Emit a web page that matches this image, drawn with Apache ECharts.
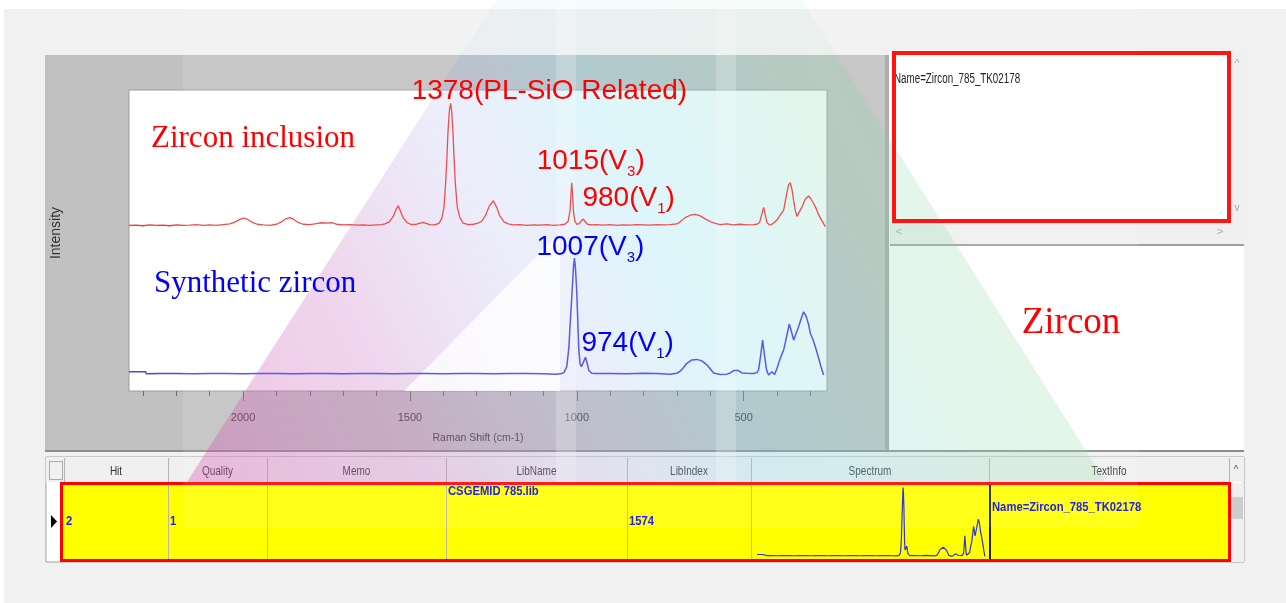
<!DOCTYPE html>
<html>
<head>
<meta charset="utf-8">
<script src="https://cdn.jsdelivr.net/npm/echarts@6/dist/echarts.min.js"></script>
<style>
  html, body { margin: 0; padding: 0; background: #fff; }
  #chart { width: 1286px; height: 603px; }
</style>
</head>
<body>
<div id="chart"></div>
<script>
// Raman spectra: [shift (cm-1), relative intensity]
const inclusionSpectrum = [
  [2342,55.0],[2320,55.1],[2300,54.9],[2280,55.2],[2260,55.0],[2240,55.1],[2220,54.9],[2200,55.2],[2180,55.0],[2160,55.1],
  [2140,55.3],[2120,55.0],[2100,55.2],[2080,55.0],[2060,55.3],[2040,55.5],[2025,56.1],[2010,57.0],[1998,57.4],[1985,56.9],
  [1972,56.0],[1958,55.4],[1940,55.2],[1920,55.0],[1900,55.4],[1885,56.2],[1872,57.2],[1860,57.6],[1848,57.0],[1835,56.0],
  [1820,55.4],[1800,55.3],[1780,55.6],[1765,55.9],[1750,55.8],[1735,55.9],[1720,55.4],[1700,55.2],[1680,55.3],[1660,55.1],
  [1640,55.2],[1620,55.0],[1600,55.2],[1585,55.3],[1575,55.5],[1562,56.2],[1550,58.0],[1541,60.5],[1535,61.5],[1529,60.0],
  [1520,57.5],[1508,55.9],[1495,55.3],[1480,55.4],[1468,55.8],[1461,56.0],[1452,55.7],[1440,55.3],[1425,55.2],[1412,55.8],
  [1404,57.5],[1398,61.0],[1393,69.0],[1389,78.0],[1386,86.0],[1382,93.0],[1378,95.6],[1375,93.0],[1371,86.0],[1368,78.0],
  [1364,69.0],[1358,61.0],[1350,57.5],[1340,55.8],[1325,55.3],[1310,55.4],[1298,55.7],[1285,56.4],[1273,58.4],[1262,61.5],
  [1250,63.2],[1240,61.0],[1230,58.0],[1218,56.2],[1205,55.5],[1190,55.2],[1170,55.3],[1150,55.0],[1130,55.2],[1110,55.1],
  [1090,55.3],[1070,55.0],[1050,55.2],[1036,55.4],[1026,56.3],[1020,60.0],[1017,66.0],[1015,69.2],[1013,66.0],[1010,60.0],
  [1006,56.5],[1000,55.4],[992,55.6],[986,56.6],[980,57.1],[975,56.3],[968,55.4],[955,55.2],[940,55.3],[920,55.1],
  [900,55.3],[880,55.0],[860,55.2],[840,55.1],[820,55.3],[800,55.2],[780,55.1],[760,55.3],[740,55.2],[720,55.3],
  [700,55.5],[690,56.2],[675,57.6],[660,58.4],[645,58.7],[630,58.2],[615,57.2],[600,56.3],[585,55.7],[570,55.3],
  [550,55.5],[530,55.2],[510,55.4],[490,55.2],[470,55.3],[460,55.4],[452,56.0],[446,58.5],[440,61.0],[435,58.5],
  [430,56.0],[424,55.3],[418,55.2],[410,55.8],[400,56.8],[390,58.5],[380,60.0],[370,66.0],[365,68.5],[360,69.2],
  [355,67.0],[350,63.3],[345,60.0],[340,58.0],[333,59.5],[325,61.1],[315,63.8],[305,64.8],[298,63.8],[290,62.3],
  [282,60.5],[275,58.5],[265,56.5],[255,54.6]
];

const syntheticSpectrum = [
  [2342,6.4],[2292,6.4],[2290,5.7],[2250,5.8],[2200,5.8],[2150,5.7],[2100,5.8],[2050,5.8],[2000,5.7],[1950,5.8],
  [1900,5.8],[1850,5.7],[1800,5.8],[1750,5.8],[1700,5.7],[1650,5.8],[1600,5.8],[1550,5.7],[1500,5.8],[1450,5.8],
  [1400,5.7],[1350,5.8],[1300,5.8],[1250,5.7],[1200,5.8],[1150,5.8],[1100,5.7],[1060,5.6],[1045,5.8],[1038,6.2],
  [1030,8.1],[1024,14.0],[1019,23.6],[1014,33.0],[1010,41.0],[1007,44.2],[1004,41.0],[1000,33.0],[997,23.6],[994,14.0],
  [990,9.0],[986,8.1],[980,9.6],[974,11.2],[969,9.3],[964,6.9],[955,5.9],[945,5.8],[900,5.8],[850,5.7],
  [800,5.9],[760,5.8],[720,5.6],[700,5.9],[690,6.6],[680,7.8],[670,9.2],[655,10.3],[640,10.5],[625,10.0],
  [610,8.7],[600,7.4],[590,6.0],[570,5.5],[550,5.6],[540,6.0],[530,6.8],[525,7.2],[515,6.8],[505,6.0],
  [490,5.9],[470,5.8],[460,6.1],[455,7.0],[448,12.5],[443,16.9],[438,12.5],[432,7.5],[428,6.0],[425,5.3],
  [420,5.9],[415,6.4],[410,5.8],[407,5.5],[400,7.5],[395,9.2],[388,11.5],[380,13.6],[370,18.6],[363,22.3],
  [356,19.5],[350,16.9],[343,19.0],[335,21.4],[326,24.5],[320,26.3],[312,24.7],[305,22.0],[300,19.2],[292,17.0],
  [285,14.7],[275,10.9],[268,8.0],[260,5.3]
];

// Annotated bands: shift, intensity at the band, vibration mode subscript / note, label offset
const inclusionPeaks = [
  { shift: 1378, intensity: 95.6, note: '(PL-SiO Related)', dx: -39, dy: -12 },
  { shift: 1015, intensity: 69.2, mode: '3', dx: -35, dy: -21 },
  { shift: 980,  intensity: 57.1, mode: '1', dx: -1,  dy: -21 }
];
const syntheticPeaks = [
  { shift: 1007, intensity: 44.2, mode: '3', dx: -38, dy: -11 },
  { shift: 974,  intensity: 11.2, mode: '1', dx: -4,  dy: -14 }
];

const shiftRange = [250, 2342];
const minorTickValues = [300,400,500,600,700,800,900,1000,1100,1200,1300,1400,1500,1600,1700,1800,1900,2000,2100,2200,2300];
const majorTickValues = [500, 1000, 1500, 2000];

const tableHeaders = ['Hit', 'Quality', 'Memo', 'LibName', 'LibIndex', 'Spectrum', 'TextInfo'];
const columnEdges = [64, 168, 267, 446, 627, 751, 989, 1229];
const matchRow = { hit: '2', quality: '1', libName: 'CSGEMID 785.lib', libIndex: '1574', textInfo: 'Name=Zircon_785_TK02178' };

const RED = '#ff0000', BLUE = '#0000ff';
const sans = "'Liberation Sans',Arial,sans-serif";
const serif = "'Liberation Serif','Times New Roman',serif";

function peakMarks(peaks, color) {
  return peaks.map(p => ({
    coord: [p.shift, p.intensity],
    label: {
      show: true,
      position: [p.dx, p.dy],
      align: 'left',
      verticalAlign: 'middle',
      formatter: p.note
        ? '{a|' + p.shift + p.note + '}'
        : '{a|' + p.shift + '(V}{s|' + p.mode + '}{a|)}',
      rich: {
        a: { fontFamily: sans, fontSize: 28, color: color, lineHeight: 36 },
        s: { fontFamily: sans, fontSize: 15, color: color, lineHeight: 16, verticalAlign: 'bottom' }
      }
    }
  }));
}

function rect(x, y, w, h, style, z) {
  return { type: 'rect', silent: true, z: z, shape: { x: x, y: y, width: w, height: h }, style: style };
}
// condensed UI text: horizontally squeezed Liberation Sans
function txt(x, y, text, style, z, sx) {
  const s = Object.assign({ text: text, fontFamily: sans, verticalAlign: 'middle', textVerticalAlign: 'middle' }, style);
  if (s.align) s.textAlign = s.align;
  return { type: 'text', silent: true, z: z, x: x, y: y, scaleX: sx || 1, style: s };
}

const g = [];
// window frame
g.push(rect(0, 0, 1286, 603, { fill: '#ffffff' }, -20));
g.push(rect(4, 9, 1282, 594, { fill: '#f1f1f1' }, -20));
g.push(rect(45, 55, 842, 397, { fill: '#c1c1c1' }, -19));
g.push(rect(885, 55, 4, 397, { fill: '#a4a4a4' }, -18));
// right info panel
g.push(rect(889, 51, 355, 401, { fill: '#ffffff' }, -18));
g.push(rect(1231, 51, 13, 173, { fill: '#f0f0f0' }, -17));
g.push(rect(890, 223, 354, 21, { fill: '#f0f0f0' }, -17));
g.push(rect(890, 244, 354, 2, { fill: '#a0a0a0' }, -17));
g.push(txt(1237, 64, '^', { fill: '#a8a8a8', fontSize: 10, align: 'center' }, -16));
g.push(txt(1237, 208, 'v', { fill: '#a8a8a8', fontSize: 10, align: 'center' }, -16));
g.push(txt(899, 232, '<', { fill: '#a8a8a8', fontSize: 11, align: 'center' }, -16));
g.push(txt(1220, 232, '>', { fill: '#a8a8a8', fontSize: 11, align: 'center' }, -16));
g.push(txt(894, 79, matchRow.textInfo, { fill: '#222', fontSize: 14, align: 'left' }, 7, 0.7));
g.push(rect(894, 53, 335, 168, { fill: 'none', stroke: '#ff1414', lineWidth: 4 }, 7));
g.push(txt(1071, 323, 'Zircon', { fill: RED, fontSize: 37, fontFamily: serif, align: 'center' }, 7));
// splitter to the table
g.push(rect(45, 450, 1199, 2, { fill: '#8c8c8c' }, -16));
// result table
g.push(rect(46, 457, 1198, 105, { fill: '#ffffff', stroke: '#a0a0a0', lineWidth: 1 }, -15));
g.push(rect(46, 457, 1198, 25, { fill: '#f0f0f0' }, -15));
g.push(rect(49.5, 461.5, 13, 18, { fill: 'none', stroke: '#666', lineWidth: 1, lineDash: [1, 1] }, -14));
columnEdges.forEach(x => g.push(rect(x, 458, 1, 24, { fill: '#b4b4b4' }, -14)));
tableHeaders.forEach((h, i) => {
  const cx = (columnEdges[i] + columnEdges[i + 1]) / 2;
  g.push(txt(cx, 471, h, { fill: '#333', fontSize: 13, align: 'center' }, -14, 0.77));
});
g.push(txt(1236, 470, '^', { fill: '#555', fontSize: 10, align: 'center' }, -14));
g.push(rect(1229, 483, 15, 79, { fill: '#f0f0f0' }, -14));
g.push(rect(1229, 497, 14, 22, { fill: '#cdcdcd' }, -14));
g.push({ type: 'polygon', silent: true, z: -14, shape: { points: [[51, 515], [51, 528], [57, 521.5]] }, style: { fill: '#000' } });
// highlighted match row
g.push(rect(61.5, 483.5, 1168, 77, { fill: '#ffff00', stroke: '#ff0000', lineWidth: 3 }, 3));
[168, 267, 446, 627, 751].forEach(x => g.push(rect(x, 485, 1, 74, { fill: '#b8b8a0' }, 3.5)));
g.push(rect(989, 485, 2, 74, { fill: '#222' }, 3.5));
const cell = { fill: '#2323e6', fontSize: 12.5, fontWeight: 'bold', align: 'left' };
g.push(txt(66, 522, matchRow.hit, cell, 7, 0.9));
g.push(txt(170, 522, matchRow.quality, cell, 7, 0.9));
g.push(txt(448, 492, matchRow.libName, cell, 7, 0.9));
g.push(txt(629, 522, matchRow.libIndex, cell, 7, 0.9));
g.push(txt(992, 508, matchRow.textInfo, cell, 7, 0.9));
// plot annotations
g.push(txt(151, 139, 'Zircon inclusion', { fill: RED, fontSize: 31, fontFamily: serif, align: 'left' }, 9));
g.push(txt(154, 284, 'Synthetic zircon', { fill: BLUE, fontSize: 31, fontFamily: serif, align: 'left' }, 9));
g.push({ type: 'text', silent: true, z: 9, x: 56, y: 233, rotation: Math.PI / 2,
  style: { text: 'Intensity', fill: '#333', fontSize: 14, fontFamily: sans, align: 'center', textAlign: 'center', verticalAlign: 'middle', textVerticalAlign: 'middle' } });

// background emblem: tinted triangle, pink lower-left through cyan to green on the right
function emblemFill(alpha) {
  return { type: 'linear', global: true, x: 160, y: 527, x2: 1100, y2: 60, colorStops: [
    { offset: 0, color: 'rgba(210,40,150,' + (0.34 * alpha) + ')' },
    { offset: 0.25, color: 'rgba(190,80,180,' + (0.26 * alpha) + ')' },
    { offset: 0.42, color: 'rgba(140,150,230,' + (0.18 * alpha) + ')' },
    { offset: 0.55, color: 'rgba(70,205,235,' + (0.2 * alpha) + ')' },
    { offset: 0.72, color: 'rgba(110,210,170,' + (0.22 * alpha) + ')' },
    { offset: 1, color: 'rgba(160,215,110,' + (0.28 * alpha) + ')' } ] };
}
function edgeX(x0, x1, y) { return x0 + (x1 - x0) * y / 527; }
g.push({ type: 'polygon', silent: true, z: 1,
  shape: { points: [[496, 0], [802, 0], [edgeX(802, 1134, 55), 55], [edgeX(496, 158, 55), 55]] },
  style: { fill: emblemFill(0.3) } });
g.push({ type: 'polygon', silent: true, z: 1,
  shape: { points: [[edgeX(496, 158, 55), 55], [edgeX(802, 1134, 55), 55], [1134, 527], [158, 527]] },
  style: { fill: emblemFill(1) } });
g.push({ type: 'polygon', silent: true, z: 1.5,
  shape: { points: [[560, 232], [560, 391], [404, 391]] }, style: { fill: '#ffffff', opacity: 0.8 } });
g.push(rect(556, 0, 20, 527, { fill: '#ffffff', opacity: 0.22 }, 1.6));
g.push(rect(716, 0, 20, 527, { fill: '#ffffff', opacity: 0.22 }, 1.6));
g.push(rect(183, 0, 955, 527, { fill: '#ffffff', opacity: 0.1 }, 4));

const chart = echarts.init(document.getElementById('chart'), null, { renderer: 'canvas' });
chart.setOption({
  animation: false,
  backgroundColor: 'transparent',
  grid: [
    { left: 129, top: 90, width: 698, height: 301, show: true, backgroundColor: '#ffffff', borderColor: '#9c9c9c', borderWidth: 1 },
    { left: 129, top: 90, width: 698, height: 301, show: false },
    { left: 757, top: 487, width: 229, height: 70, show: false }
  ],
  xAxis: [
    { type: 'value', gridIndex: 0, min: shiftRange[0], max: shiftRange[1], inverse: true,
      name: 'Raman Shift (cm-1)', nameLocation: 'middle', nameGap: 42,
      nameTextStyle: { fontFamily: sans, fontSize: 10.5, color: '#333' },
      axisLine: { show: false }, splitLine: { show: false },
      axisTick: { show: true, length: 10, customValues: majorTickValues, lineStyle: { color: '#6a6a6a' } },
      axisLabel: { show: true, margin: 21, customValues: majorTickValues, formatter: v => String(v),
        fontFamily: sans, fontSize: 11, color: '#333' } },
    { type: 'value', gridIndex: 1, min: shiftRange[0], max: shiftRange[1], inverse: true,
      axisLine: { show: false }, splitLine: { show: false }, axisLabel: { show: false },
      axisTick: { show: true, length: 5, customValues: minorTickValues, lineStyle: { color: '#6a6a6a' } } },
    { type: 'value', gridIndex: 2, min: shiftRange[0], max: shiftRange[1], inverse: true, show: false }
  ],
  yAxis: [
    { type: 'value', gridIndex: 0, min: 0, max: 100, show: false },
    { type: 'value', gridIndex: 1, min: 0, max: 100, show: false },
    { type: 'value', gridIndex: 2, min: 5, max: 44.5, show: false }
  ],
  series: [
    { name: 'Zircon inclusion', type: 'line', xAxisIndex: 0, yAxisIndex: 0, data: inclusionSpectrum,
      showSymbol: false, smooth: false, z: 2, lineStyle: { color: '#ef3a3a', width: 1.3 },
      markPoint: { symbol: 'rect', symbolSize: 0, z: 10, data: peakMarks(inclusionPeaks, RED) } },
    { name: 'Synthetic zircon', type: 'line', xAxisIndex: 0, yAxisIndex: 0, data: syntheticSpectrum,
      showSymbol: false, smooth: false, z: 2, lineStyle: { color: '#4646f2', width: 1.5 },
      markPoint: { symbol: 'rect', symbolSize: 0, z: 10, data: peakMarks(syntheticPeaks, BLUE) } },
    { name: 'Library spectrum', type: 'line', xAxisIndex: 2, yAxisIndex: 2, data: syntheticSpectrum,
      showSymbol: false, smooth: false, z: 6, lineStyle: { color: '#3434d8', width: 1.2 } }
  ],
  graphic: { elements: g }
});
</script>
</body>
</html>
